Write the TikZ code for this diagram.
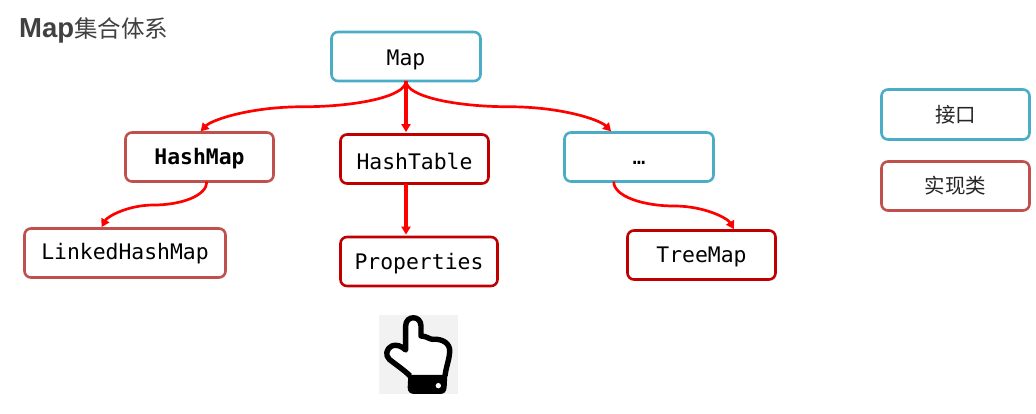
\documentclass[tikz,border=0pt]{standalone}
\usepackage{fontspec}
\setmainfont{Liberation Sans}
\setmonofont{DejaVu Sans Mono}
\newfontfamily\cjk{Noto Sans CJK SC}
\usetikzlibrary{calc,arrows.meta}
\definecolor{ifaceblue}{HTML}{4BACC6}
\definecolor{softred}{HTML}{C0504D}
\definecolor{deepred}{HTML}{C00000}
\tikzset{
  x=1pt,y=-1pt,
  boxbase/.style={rounded corners=6.5pt,line width=2.6pt,fill=white,inner sep=0pt,outer sep=0pt,anchor=north west},
  ifacebox/.style={boxbase,draw=ifaceblue},
  softbox/.style={boxbase,draw=softred},
  deepbox/.style={boxbase,draw=deepred},
  code/.style={font=\ttfamily\fontsize{21.4}{24}\selectfont,text=black,yshift=-2pt},
  legend/.style={font=\cjk\fontsize{20.5}{24}\selectfont,text=black!85},
  conn/.style={draw=red,line width=2.7pt,-{Triangle[length=8pt,width=9pt]},shorten >=1.6pt},
  straightconn/.style={conn,line width=3.2pt,shorten >=2.4pt},
}
\newcommand{\scurve}[2]{%
  \draw[conn] let \p1=(#1),\p2=(#2),\p3=($(\p1)!0.5!(\p2)$) in
    (\p1) .. controls (\x1,{\y1+0.62*(\y3-\y1)}) and ({\x3+0.5*(\x1-\x3)},\y3) .. (\p3)
    .. controls ({\x3-0.5*(\x1-\x3)},\y3) and ({\x2+0.06*(\x1-\x2)},{\y2-0.5*(\y3-\y1)}) .. (\p2);}
\begin{document}
\begin{tikzpicture}
\useasboundingbox (0,0) rectangle (1036,413);
\fill[white] (0,0) rectangle (1036,413);
% title
\node[anchor=west,inner sep=0pt,text=black!75] (title) at (19,30)
  {\fontsize{27.5}{28}\selectfont\bfseries Map{\cjk\mdseries\fontsize{23.5}{28}\selectfont 集合体系}};
% boxes
\node[ifacebox,minimum width=149pt,minimum height=49pt] (map) at (331.5,32) {};
\node[softbox,minimum width=148pt,minimum height=49pt] (hashmap) at (125.5,132.5) {};
\node[deepbox,minimum width=148pt,minimum height=49pt] (hashtable) at (340.5,134.5) {};
\node[ifacebox,minimum width=149pt,minimum height=49pt] (dots) at (564.5,132.5) {};
\node[softbox,minimum width=201pt,minimum height=49pt] (linked) at (24.5,228.5) {};
\node[deepbox,minimum width=157pt,minimum height=49pt] (props) at (340.5,237) {};
\node[deepbox,minimum width=148pt,minimum height=49pt] (treemap) at (627.5,230.5) {};
\node[ifacebox,minimum width=148pt,minimum height=50pt] (iface) at (881.5,89.5) {};
\node[softbox,minimum width=148pt,minimum height=49pt] (impl) at (881.5,161.5) {};
% labels
\node[code,yshift=-1.5pt] (tmap) at (map) {Map};
\node[code,font=\ttfamily\bfseries\fontsize{21.4}{24}\selectfont] (thm) at (hashmap) {HashMap};
\node[code] (tht) at (hashtable) {HashTable};
\node[code,yshift=-4pt] (tdots) at (dots) {…};
\node[code,yshift=1pt] (tlink) at (linked) {LinkedHashMap};
\node[code] (tprops) at (props) {Properties};
\node[code] (ttree) at (treemap) {TreeMap};
\node[legend] (tiface) at (iface) {接口};
\node[legend] (timpl) at (impl) {实现类};
% connectors
\scurve{map.south}{hashmap.north}
\scurve{map.south}{$(dots.north west)!0.32!(dots.north east)$}
\draw[straightconn] (map.south) -- (map.south |- hashtable.north);
\draw[straightconn] (map.south |- hashtable.south) -- (map.south |- props.north);
\scurve{$(hashmap.south west)!0.55!(hashmap.south east)$}{$(linked.north west)!0.38!(linked.north east)$}
\scurve{$(dots.south west)!0.33!(dots.south east)$}{$(treemap.north west)!0.725!(treemap.north east)$}
% hand icon
\fill[black!5] (379,315) rectangle (458,394);
\begin{scope}[shift={(360,300)},x=0.3333pt,y=-0.3333pt]
  \draw[black,line width=5.4pt,line join=round,fill=white]
    (150,228) .. controls (135,212) and (105,192) .. (88,178)
    .. controls (74,165) and (80,146) .. (95,138)
    .. controls (108,132) and (125,138) .. (137,150)
    -- (137,78) .. controls (137,45) and (183,45) .. (183,78)
    -- (183,108) .. controls (200,108) and (208,118) .. (218,118)
    .. controls (235,116) and (265,122) .. (269,148)
    .. controls (270,175) and (258,200) .. (255,228);
  \fill[black] (145,225) -- (262,225) -- (260,262)
    .. controls (259,276) and (252,282) .. (240,282) -- (165,282)
    .. controls (150,282) and (143,276) .. (143,262) -- cycle;
  \fill[white] (235,257) circle (8);
\end{scope}
\end{tikzpicture}
\end{document}
